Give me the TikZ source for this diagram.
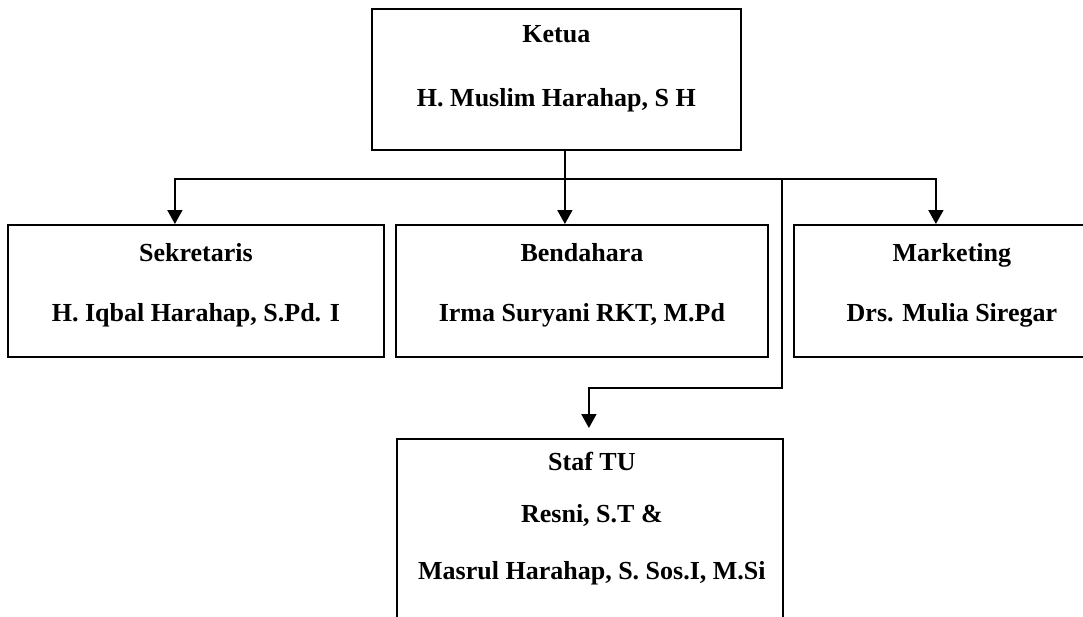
\documentclass[tikz,border=0pt]{standalone}
\usepackage{fontspec}
\setmainfont{Liberation Serif}
\usetikzlibrary{arrows.meta, positioning}

\begin{document}
\begin{tikzpicture}[x=1pt, y=-1pt,
    box/.style={draw, line width=1.8pt, rectangle, inner sep=0pt, anchor=north west},
    lbl/.style={anchor=base, inner sep=0pt, font=\fontsize{26}{31}\selectfont\bfseries},
    arr/.style={line width=1.8pt, -{Triangle[width=15pt, length=14pt]}}]
    \useasboundingbox (0,0) rectangle (1083,616);

    \node[box, minimum width=369pt, minimum height=141pt] (ketua) at (371,8) {};
    \node[box, minimum width=376pt, minimum height=132pt] (sekretaris) at (7,224) {};
    \node[box, minimum width=372pt, minimum height=132pt] (bendahara) at (395,224) {};
    \node[box, minimum width=316pt, minimum height=132pt] (marketing) at (793,224) {};
    \node[box, minimum width=386pt, minimum height=200pt] (staf) at (396,438) {};

    \node[lbl] (ketuaA) at ([yshift=-34pt]ketua.north) {Ketua};
    \node[lbl] (ketuaB) at ([yshift=-98pt]ketua.north) {H. Muslim Harahap, S H};
    \node[lbl] (sekretarisA) at ([yshift=-37pt]sekretaris.north) {Sekretaris};
    \node[lbl] (sekretarisB) at ([yshift=-97pt]sekretaris.north) {H. Iqbal Harahap, S.Pd. I};
    \node[lbl] (bendaharaA) at ([yshift=-37pt]bendahara.north) {Bendahara};
    \node[lbl] (bendaharaB) at ([yshift=-97pt]bendahara.north) {Irma Suryani RKT, M.Pd};
    \node[lbl] (marketingA) at ([yshift=-37pt]marketing.north) {Marketing};
    \node[lbl] (marketingB) at ([yshift=-97pt]marketing.north) {Drs. Mulia Siregar};
    \node[lbl] (stafA) at ([xshift=2pt, yshift=-32pt]staf.north) {Staf TU};
    \node[lbl] (stafB) at ([xshift=2pt, yshift=-84pt]staf.north) {Resni, S.T \&};
    \node[lbl] (stafC) at ([xshift=2pt, yshift=-141pt]staf.north) {Masrul Harahap, S. Sos.I, M.Si};

    \coordinate (hub) at ([xshift=8.5pt, yshift=-28pt]ketua.south);
    \coordinate (turn) at (782,388);

    \draw[line width=1.8pt] ([xshift=8.5pt]ketua.south) -- (hub);
    \draw[arr] (hub) -| ([xshift=-21pt]sekretaris.north);
    \draw[arr] (hub) -- ([xshift=-17pt]bendahara.north);
    \draw[arr] (hub) -| ([xshift=-16pt]marketing.north);
    \draw[arr, shorten >=10pt] (hub) -| (turn) -| ([xshift=-1pt]staf.north);
\end{tikzpicture}
\end{document}
